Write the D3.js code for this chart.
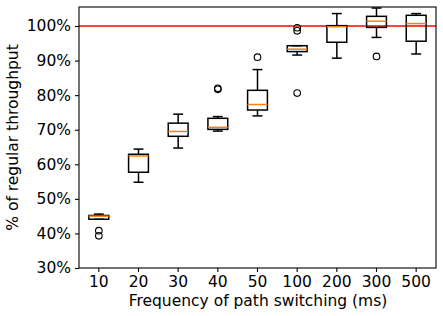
<!DOCTYPE html>
<html><head><meta charset="utf-8">
<script src="https://cdn.jsdelivr.net/npm/d3@7"></script>
<style>body{margin:0;background:#fff}svg{display:block}text{font-family:"DejaVu Sans",sans-serif;fill:#000}</style>
</head><body><svg id="c" width="443" height="316"></svg>
<script>
const categories = ["10","20","30","40","50","100","200","300","500"];
const whiskerLow  = [44.1, 54.8, 64.7, 69.6, 74.0, 91.6, 90.7, 96.7, 91.9];
const q1          = [44.1, 57.7, 68.1, 70.1, 75.7, 92.6, 95.3, 99.6, 95.6];
const median      = [45.0, 62.4, 69.5, 70.7, 77.3, 93.3, 99.8, 101.4, 100.7];
const q3          = [45.2, 62.9, 71.9, 73.3, 81.4, 94.3, 100.1, 102.8, 103.1];
const whiskerHigh = [45.6, 64.4, 74.5, 73.8, 87.4, 94.3, 103.6, 105.2, 103.6];
const outliers    = [[40.8, 39.3], [], [], [82.0, 81.7], [91.0], [99.5, 98.6, 80.6], [], [91.2], []];
const yTicks = [30,40,50,60,70,80,90,100];
const refLine = 100;

const svg = d3.select("#c");
const L = 79, R = 436, T = 7, B = 268;
const FS = "15.5px";
const x = d3.scaleBand().domain(categories).range([L, R]).paddingInner(0).paddingOuter(0);
const y = d3.scaleLinear().domain([30, 105.5]).range([B, T]);
const bw = x.bandwidth() * 0.5;

const g = svg.append("g");
g.append("line").attr("x1", L).attr("x2", R).attr("y1", y(refLine)).attr("y2", y(refLine))
  .attr("stroke", "#ff4040").attr("stroke-width", 2);

categories.forEach((c, i) => {
  const cx = x(c) + x.bandwidth() / 2;
  const bg = g.append("g").attr("stroke", "#000").attr("stroke-width", 1.5).attr("fill", "none");
  bg.append("line").attr("x1", cx).attr("x2", cx).attr("y1", y(q3[i])).attr("y2", y(whiskerHigh[i]));
  bg.append("line").attr("x1", cx).attr("x2", cx).attr("y1", y(q1[i])).attr("y2", y(whiskerLow[i]));
  [whiskerLow[i], whiskerHigh[i]].forEach(v => {
    bg.append("line").attr("x1", cx - bw / 4).attr("x2", cx + bw / 4).attr("y1", y(v)).attr("y2", y(v));
  });
  bg.append("rect").attr("x", cx - bw / 2).attr("width", bw)
    .attr("y", y(q3[i])).attr("height", Math.max(0.5, y(q1[i]) - y(q3[i])));
  g.append("line").attr("x1", cx - bw / 2).attr("x2", cx + bw / 2).attr("y1", y(median[i])).attr("y2", y(median[i]))
    .attr("stroke", "#ff7f0e").attr("stroke-width", 1.5);
  outliers[i].forEach(v => {
    g.append("circle").attr("cx", cx).attr("cy", y(v)).attr("r", 3.3)
      .attr("fill", "none").attr("stroke", "#000").attr("stroke-width", 1.1);
  });
});

svg.append("rect").attr("x", L).attr("y", T).attr("width", R - L).attr("height", B - T)
  .attr("fill", "none").attr("stroke", "#000").attr("stroke-width", 1.1);

const xAxis = svg.append("g").attr("transform", `translate(0,${B})`)
  .call(d3.axisBottom(x).tickSize(4).tickPadding(3.5));
const yAxis = svg.append("g").attr("transform", `translate(${L},0)`)
  .call(d3.axisLeft(y).tickValues(yTicks).tickFormat(d => d + "%").tickSize(4).tickPadding(4));
[xAxis, yAxis].forEach(a => {
  a.select(".domain").remove();
  a.selectAll("text").style("font-family", "DejaVu Sans").style("font-size", FS).attr("fill", "#000");
  a.selectAll("line").attr("stroke", "#000").attr("stroke-width", 1.1);
});

svg.append("text").attr("x", (L + R) / 2 + 0.5).attr("y", 305.5).attr("text-anchor", "middle")
  .style("font-size", FS).text("Frequency of path switching (ms)");
svg.append("text").attr("transform", `translate(18,${(T + B) / 2}) rotate(-90)`).attr("text-anchor", "middle")
  .style("font-size", FS).text("% of regular throughput");
</script></body></html>
